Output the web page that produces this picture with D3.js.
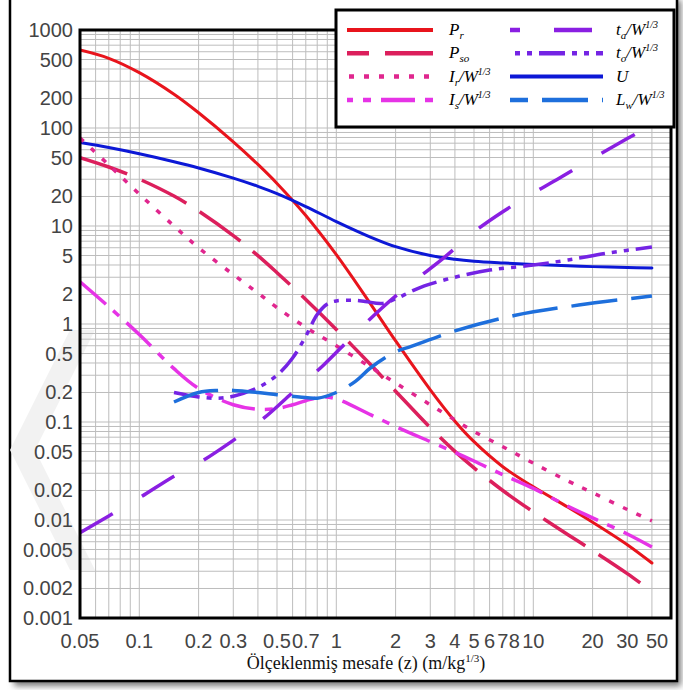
<!DOCTYPE html>
<html>
<head>
<meta charset="utf-8">
<script src="https://cdn.jsdelivr.net/npm/d3@7/dist/d3.min.js"></script>
<style>
  html, body { margin: 0; padding: 0; background: #fff; }
  svg { display: block; }
</style>
</head>
<body>
<svg id="chart"></svg>
<script>
// scaled distance z (m/kg^1/3) and the read-off values of each curve
var zMain = [0.05, 0.07, 0.1, 0.15, 0.2, 0.3, 0.4, 0.5, 0.7, 1, 1.5, 2, 3, 4, 5, 7, 10, 15, 20, 30, 40];
var pr  = [625, 514, 367, 221, 143, 72.3, 42.5, 27.2, 12.8, 5.1, 1.58, 0.673, 0.213, 0.102, 0.063, 0.035, 0.0218, 0.0135, 0.0095, 0.0056, 0.00364];
var pso = [49.9, 40, 30.1, 20.2, 14.2, 7.96, 4.98, 3.34, 1.78, 0.881, 0.381, 0.206, 0.0875, 0.0501, 0.034, 0.02, 0.0121, 0.00708, 0.00488, 0.00284, 0.00186];
var ir  = [79, 42, 21.2, 10, 6.0, 3.19, 2.07, 1.47, 0.925, 0.6, 0.36, 0.25, 0.15, 0.105, 0.08, 0.056, 0.038, 0.025, 0.019, 0.0128, 0.0098];
var u   = [71.1, 63.2, 54.6, 45.3, 39.1, 30.8, 25.4, 21.4, 15.8, 11.1, 7.67, 6.15, 4.99, 4.58, 4.38, 4.2, 4.05, 3.92, 3.85, 3.77, 3.72];

var zIs = [0.05, 0.07, 0.1, 0.15, 0.2, 0.3, 0.4, 0.5, 0.6, 0.7, 0.85, 1, 1.5, 2, 3, 4, 5, 7, 10, 15, 20, 30, 40];
var is  = [2.7, 1.5, 0.78, 0.35, 0.22, 0.15, 0.135, 0.137, 0.15, 0.165, 0.18, 0.172, 0.118, 0.09, 0.063, 0.049, 0.04, 0.029, 0.021, 0.0138, 0.0105, 0.0072, 0.0053];

var zTa = [0.05, 0.07, 0.1, 0.15, 0.2, 0.3, 0.43, 0.6, 0.86, 1.2, 1.7, 2.4, 3.5, 5, 7, 10, 14, 20, 30, 40];
var ta  = [0.0074, 0.011, 0.0168, 0.028, 0.038, 0.065, 0.11, 0.2, 0.38, 0.74, 1.45, 2.6, 4.7, 8.7, 14, 21.7, 32, 49, 78, 107];

var zTo = [0.15, 0.2, 0.25, 0.3, 0.4, 0.5, 0.6, 0.7, 0.8, 0.9, 1, 1.2, 1.4, 1.7, 2, 2.4, 2.8, 4, 6, 10, 15, 24, 40];
var to  = [0.2, 0.18, 0.175, 0.183, 0.225, 0.3, 0.45, 0.75, 1.25, 1.6, 1.72, 1.75, 1.7, 1.62, 1.8, 2.15, 2.45, 3.0, 3.55, 4.0, 4.5, 5.3, 6.1];

var zLw = [0.15, 0.2, 0.25, 0.3, 0.4, 0.5, 0.65, 0.8, 1, 1.25, 1.5, 2, 2.4, 4, 8, 17, 40];
var lw  = [0.16, 0.2, 0.21, 0.21, 0.2, 0.19, 0.18, 0.175, 0.2, 0.26, 0.36, 0.52, 0.59, 0.85, 1.22, 1.56, 1.93];

var xTicks = [0.05, 0.1, 0.2, 0.3, 0.5, 0.7, 1, 2, 3, 4, 5, 6, 7, 8, 10, 20, 30, 50];
var yTicks = [1000, 500, 200, 100, 50, 20, 10, 5, 2, 1, 0.5, 0.2, 0.1, 0.05, 0.02, 0.01, 0.005, 0.002, 0.001];

var width = 683,
  height = 690;

var svg = d3.select('#chart')
  .attr('width', width)
  .attr('height', height);

var margin = { left: 80, right: 671, top: 30, bottom: 618 };

var x = d3.scaleLog().domain([0.05, 50]).range([margin.left, margin.right]);
var y = d3.scaleLog().domain([0.001, 1000]).range([margin.bottom, margin.top]);

// shadow + outer frame
var defs = svg.append('defs');
defs.append('filter').attr('id', 'blur')
  .append('feGaussianBlur').attr('stdDeviation', 3);
defs.append('clipPath').attr('id', 'plotclip')
  .append('rect')
  .attr('x', margin.left).attr('y', margin.top)
  .attr('width', margin.right - margin.left)
  .attr('height', margin.bottom - margin.top);

svg.append('rect')
  .attr('x', 14).attr('y', 0)
  .attr('width', 667).attr('height', 686)
  .attr('fill', '#777')
  .attr('filter', 'url(#blur)');
svg.append('rect')
  .attr('x', 10).attr('y', -4)
  .attr('width', 667).attr('height', 685)
  .attr('fill', '#fff')
  .attr('stroke', '#000')
  .attr('stroke-width', 2.5);

// faint watermark chevron
svg.append('path')
  .attr('d', 'M70,330 L10,450 L70,570 L95,570 L35,450 L95,330 Z')
  .attr('fill', '#f2f2f2');

// grid
var g = svg.append('g');
var gridX = [], gridY = [];
[0.01, 0.1, 1, 10].forEach(function(dec) {
  d3.range(1, 10).forEach(function(m) {
    var v = +(m * dec).toPrecision(3);
    if (v >= 0.05 && v <= 50) gridX.push(v);
  });
});
[0.001, 0.01, 0.1, 1, 10, 100].forEach(function(dec) {
  d3.range(1, 10).forEach(function(m) { gridY.push(+(m * dec).toPrecision(3)); });
});
gridY.push(1000);

g.selectAll('.gx').data(gridX).enter().append('line')
  .attr('class', 'gx')
  .attr('x1', function(d) { return x(d); }).attr('x2', function(d) { return x(d); })
  .attr('y1', margin.top).attr('y2', margin.bottom)
  .attr('stroke', '#bdbdbd').attr('stroke-width', 1);

g.selectAll('.gy').data(gridY).enter().append('line')
  .attr('class', 'gy')
  .attr('x1', margin.left).attr('x2', margin.right)
  .attr('y1', function(d) { return y(d); }).attr('y2', function(d) { return y(d); })
  .attr('stroke', '#bdbdbd').attr('stroke-width', 1);

// curves
var series = [
  { z: zMain, v: pr,  color: '#e8141c', dash: null,               w: 3 },
  { z: zMain, v: u,   color: '#0c18d6', dash: null,               w: 3 },
  { z: zMain, v: pso, color: '#dc1f5c', dash: '50,16',            w: 3.5 },
  { z: zMain, v: ir,  color: '#e0268e', dash: '5,10',             w: 3.5 },
  { z: zIs,   v: is,  color: '#e633e6', dash: '34,10,8,10',       w: 3.5 },
  { z: zTa,   v: ta,  color: '#8a1fe2', dash: '38,34',            w: 3.5 },
  { z: zTo,   v: to,  color: '#7424e4', dash: '26,7,5,7,5,7',     w: 3.5 },
  { z: zLw,   v: lw,  color: '#1e6fdc', dash: '46,14',            w: 3.5 }
];

var line = d3.line()
  .x(function(d) { return x(d[0]); })
  .y(function(d) { return y(d[1]); })
  .curve(d3.curveCatmullRom.alpha(0.5));

var curves = svg.append('g').attr('clip-path', 'url(#plotclip)');
series.forEach(function(s) {
  curves.append('path')
    .datum(s.z.map(function(z, i) { return [z, s.v[i]]; }))
    .attr('d', line)
    .attr('fill', 'none')
    .attr('stroke', s.color)
    .attr('stroke-width', s.w)
    .attr('stroke-dasharray', s.dash)
    .attr('stroke-linecap', s.dash ? 'butt' : 'round');
});

// plot frame
svg.append('rect')
  .attr('x', margin.left).attr('y', margin.top)
  .attr('width', margin.right - margin.left)
  .attr('height', margin.bottom - margin.top)
  .attr('fill', 'none')
  .attr('stroke', '#000')
  .attr('stroke-width', 3);

// tick labels
svg.selectAll('.ylab').data(yTicks).enter().append('text')
  .attr('class', 'ylab')
  .attr('x', 73)
  .attr('y', function(d) { return y(d); })
  .attr('dy', '0.35em')
  .attr('text-anchor', 'end')
  .attr('font-family', 'Liberation Sans, Arial, sans-serif')
  .attr('font-size', 20)
  .attr('fill', '#444')
  .text(function(d) { return d; });

svg.selectAll('.xlab').data(xTicks).enter().append('text')
  .attr('class', 'xlab')
  .attr('x', function(d) { return Math.min(x(d), 657); })
  .attr('y', 641)
  .attr('dy', '0.35em')
  .attr('text-anchor', 'middle')
  .attr('font-family', 'Liberation Sans, Arial, sans-serif')
  .attr('font-size', 20)
  .attr('fill', '#444')
  .text(function(d) { return d; });

var xt = svg.append('text')
  .attr('x', 366).attr('y', 669)
  .attr('text-anchor', 'middle')
  .attr('font-family', 'Liberation Serif, Times New Roman, serif')
  .attr('font-size', 18)
  .attr('fill', '#111');
xt.append('tspan').text('Ölçeklenmiş mesafe (z) (m/kg');
xt.append('tspan').attr('font-size', 11).attr('dy', -7).text('1/3');
xt.append('tspan').attr('dy', 7).text(')');

// legend
var legend = svg.append('g');
legend.append('rect')
  .attr('x', 336).attr('y', 10)
  .attr('width', 338).attr('height', 117)
  .attr('fill', '#fff')
  .attr('stroke', '#000')
  .attr('stroke-width', 3);

var legendItems = [
  { s: 0, col: 0, row: 0, main: 'P', sub: 'r', sup: false },
  { s: 2, col: 0, row: 1, main: 'P', sub: 'so', sup: false },
  { s: 3, col: 0, row: 2, main: 'I', sub: 'r', sup: true },
  { s: 4, col: 0, row: 3, main: 'I', sub: 's', sup: true },
  { s: 5, col: 1, row: 0, main: 't', sub: 'a', sup: true },
  { s: 6, col: 1, row: 1, main: 't', sub: 'o', sup: true },
  { s: 1, col: 1, row: 2, main: 'U', sub: '', sup: false },
  { s: 7, col: 1, row: 3, main: 'L', sub: 'w', sup: true }
];

legendItems.forEach(function(it) {
  var s = series[it.s];
  var x0 = it.col === 0 ? 347 : 510;
  var x1 = it.col === 0 ? 433 : 603;
  var ly = 30 + it.row * 23.3;
  legend.append('line')
    .attr('x1', x0).attr('x2', x1)
    .attr('y1', ly).attr('y2', ly)
    .attr('stroke', s.color)
    .attr('stroke-width', s.dash ? 4.5 : 4)
    .attr('stroke-dasharray', s.dash)
    .attr('stroke-dashoffset', s.dash ? 28 : null);
  var t = legend.append('text')
    .attr('x', it.col === 0 ? 449 : 616)
    .attr('y', ly + 5)
    .attr('font-family', 'Liberation Serif, Times New Roman, serif')
    .attr('font-style', 'italic')
    .attr('font-size', 17)
    .attr('fill', '#000');
  t.append('tspan').text(it.main);
  if (it.sub) t.append('tspan').attr('font-size', 11).attr('dy', 4).text(it.sub);
  if (it.sup) {
    t.append('tspan').attr('dy', it.sub ? -4 : 0).text('/W');
    t.append('tspan').attr('font-size', 10).attr('dy', -7).text('1/3');
  }
});
</script>
</body>
</html>
